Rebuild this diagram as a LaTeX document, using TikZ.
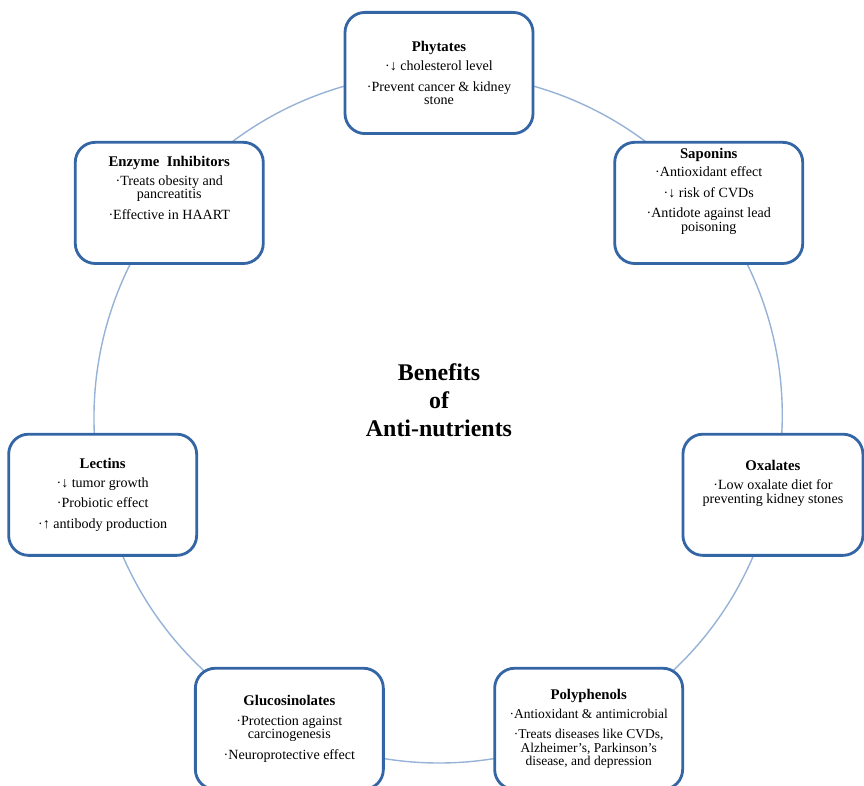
\documentclass[tikz,border=0pt]{standalone}
\usepackage{fontspec}
\setmainfont{Liberation Serif}
\usetikzlibrary{backgrounds}

\definecolor{azulcaja}{RGB}{52,101,164}
\definecolor{azulcirculo}{RGB}{150,178,214}

\newcommand{\cabeza}[1]{{\fontsize{10.5}{11}\selectfont\bfseries #1}}

\tikzset{
  caja/.style={draw=azulcaja, line width=2pt, fill=white, rounded corners=0.5cm,
    align=center, minimum width=4.7cm, minimum height=3.03cm, inner sep=2pt,
    font=\fontsize{10}{9.6}\selectfont},
  circulo/.style={draw=azulcirculo, line width=1pt}
}

\begin{document}
\begin{tikzpicture}
%marco de la figura
\useasboundingbox (0,0) rectangle (21.6,19.625);

%centro y radio del circulo
\coordinate (centro) at (10.975,9.175);
\def\radio{8.625}

%titulo en el centro
\node [align=center, font=\fontsize{17}{20}\selectfont\bfseries] (titulo) at ([yshift=0.45cm]centro) {Benefits\\of\\Anti-nutrients};

%cajas alrededor del circulo
\node [caja] (fitatos) at ([shift={(90:\radio)}]centro)
  {\cabeza{Phytates}\\[4pt] ·↓ cholesterol level\\[5pt] ·Prevent cancer \& kidney\\ stone};
\node [caja] (enzimas) at ([shift={(141.43:\radio)}]centro)
  {\cabeza{Enzyme\ \ Inhibitors}\\[4pt] ·Treats obesity and\\ pancreatitis\\[5pt] ·Effective in HAART\\[12pt]};
\node [caja] (lectinas) at ([shift={(192.86:\radio)}]centro)
  {\cabeza{Lectins}\\[4pt] ·↓ tumor growth\\[5pt] ·Probiotic effect\\[5pt] ·↑ antibody production};
\node [caja] (glucosinolatos) at ([shift={(244.29:\radio)}]centro)
  {\cabeza{Glucosinolates}\\[4pt] ·Protection against\\ carcinogenesis\\[5pt] ·Neuroprotective effect};
\node [caja, font=\fontsize{9.6}{9.6}\selectfont] (polifenoles) at ([shift={(295.71:\radio)}]centro)
  {\cabeza{Polyphenols}\\[4pt] ·Antioxidant \& antimicrobial\\[5pt] ·Treats diseases like CVDs,\\ Alzheimer's, Parkinson's\\ disease, and depression};
\node [caja, minimum width=4.5cm, xshift=-0.06cm] (oxalatos) at ([shift={(347.14:\radio)}]centro)
  {\cabeza{Oxalates}\\[4pt] ·Low oxalate diet for\\ preventing kidney stones\\[9pt]};
\node [caja] (saponinas) at ([shift={(38.57:\radio)}]centro)
  {\cabeza{Saponins}\\[3pt] ·Antioxidant effect\\[5pt] ·↓ risk of CVDs\\[5pt] ·Antidote against lead\\ poisoning\\[9pt]};

%arcos del circulo entre las cajas
\begin{scope}[on background layer]
\foreach \a/\b in {fitatos/enzimas, enzimas/lectinas, lectinas/glucosinolatos,
  glucosinolatos/polifenoles, polifenoles/oxalatos, oxalatos/saponinas, saponinas/fitatos}
	\draw [circulo] (\a.center) to[bend right=25.71, looseness=0.9] (\b.center);
\end{scope}
\end{tikzpicture}
\end{document}
